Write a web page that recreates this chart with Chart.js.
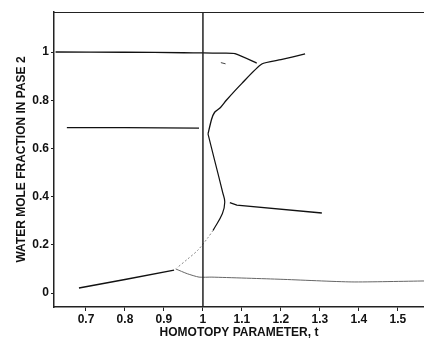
<!DOCTYPE html>
<html>
<head>
<meta charset="utf-8">
<script src="https://cdn.jsdelivr.net/npm/chart.js@4"></script>
<style>
  html, body { margin: 0; padding: 0; background: #fff; }
  #wrap { width: 424px; height: 340px; }
</style>
</head>
<body>
<div id="wrap"><canvas id="chart"></canvas></div>
<script>
// axis limits and tick labels
var tMin = 0.618, tMax = 1.567;
var wMin = -0.058, wMax = 1.166;
var xTicks = [0.7, 0.8, 0.9, 1, 1.1, 1.2, 1.3, 1.4, 1.5];
var yTicks = [0, 0.2, 0.4, 0.6, 0.8, 1];

// branch near x = 1 (upper, left part)
var topT = [0.622, 0.8, 0.95, 1.0, 1.05, 1.082, 1.138];
var topW = [1.0, 0.999, 0.997, 0.996, 0.995, 0.993, 0.954];

// branch rising to the upper right
var riseT = [1.013, 1.022, 1.03, 1.045, 1.06, 1.1, 1.151, 1.2, 1.262];
var riseW = [0.66, 0.72, 0.75, 0.77, 0.80, 0.87, 0.95, 0.968, 0.992];

// horizontal branch at ~0.69
var midT = [0.651, 0.8, 0.99];
var midW = [0.686, 0.686, 0.684];

// bulge going down from 0.66
var bulgeT = [1.013, 1.03, 1.051, 1.056, 1.05, 1.026];
var bulgeW = [0.66, 0.55, 0.415, 0.378, 0.33, 0.26];

// faint continuation to the lower left branch
var faintT = [1.026, 1.013, 0.987, 0.96, 0.933];
var faintW = [0.26, 0.23, 0.178, 0.14, 0.104];

// lower left branch
var lowT = [0.682, 0.8, 0.926];
var lowW = [0.021, 0.056, 0.095];

// faint lower branch running right
var baseT = [0.93, 0.96, 0.99, 1.023, 1.2, 1.382, 1.567];
var baseW = [0.1, 0.08, 0.066, 0.066, 0.057, 0.046, 0.05];

// right branch at ~0.35
var rightT = [1.069, 1.087, 1.305];
var rightW = [0.375, 0.365, 0.332];

// small fragment
var fragT = [1.046, 1.058];
var fragW = [0.956, 0.951];

// vertical line at t = 1
var vertT = [1, 1];
var vertW = [wMin, wMax];

function pts(t, w) {
    return t.map(function (v, i) { return { x: v, y: w[i] }; });
}

function line(t, w, color, width, tension, dash) {
    return {
        data: pts(t, w),
        showLine: true,
        borderColor: color,
        borderWidth: width,
        borderDash: dash || [],
        pointRadius: 0,
        tension: tension,
        fill: false
    };
}

// frame line along the top of the plot
var topBorder = {
    id: 'topBorder',
    afterDraw: function (chart) {
        var a = chart.chartArea, c = chart.ctx;
        c.save();
        c.strokeStyle = '#222';
        c.lineWidth = 1;
        c.beginPath();
        c.moveTo(a.left, a.top + 0.5);
        c.lineTo(a.right, a.top + 0.5);
        c.stroke();
        c.restore();
    }
};

var font = { family: '"Liberation Sans", Arial, sans-serif', size: 12, weight: 'bold' };

new Chart(document.getElementById('chart'), {
    type: 'scatter',
    data: {
        datasets: [
            line(vertT, vertW, '#222', 1.5, 0),
            line(topT, topW, '#111', 1.3, 0.2),
            line(riseT, riseW, '#111', 1.3, 0.2),
            line(midT, midW, '#111', 1.3, 0),
            line(bulgeT, bulgeW, '#111', 1.2, 0.4),
            line(faintT, faintW, '#888', 1, 0.3, [2, 2]),
            line(lowT, lowW, '#111', 1.4, 0),
            line(baseT, baseW, '#666', 1, 0.2),
            line(rightT, rightW, '#111', 1.3, 0),
            line(fragT, fragW, '#444', 1, 0)
        ]
    },
    options: {
        responsive: true,
        maintainAspectRatio: false,
        animation: false,
        layout: { padding: { top: 12, right: 0, left: 0, bottom: 0 } },
        plugins: {
            legend: { display: false },
            tooltip: { enabled: false }
        },
        scales: {
            x: {
                type: 'linear',
                min: tMin,
                max: tMax,
                afterBuildTicks: function (s) { s.ticks = xTicks.map(function (v) { return { value: v }; }); },
                afterFit: function (s) { s.height = 33; },
                grid: { drawOnChartArea: false, tickLength: 4, color: '#222' },
                border: { color: '#222', width: 1.5 },
                ticks: { color: '#111', font: font, padding: 1, maxRotation: 0,
                         callback: function (v) { return String(v); } },
                title: { display: true, text: 'HOMOTOPY PARAMETER, t', color: '#111', font: font,
                         padding: { top: 0, bottom: 0 } }
            },
            y: {
                type: 'linear',
                min: wMin,
                max: wMax,
                afterBuildTicks: function (s) { s.ticks = yTicks.map(function (v) { return { value: v }; }); },
                afterFit: function (s) { s.width = 54; },
                grid: { drawOnChartArea: false, tickLength: 3, color: '#222' },
                border: { color: '#222', width: 1.5 },
                ticks: { color: '#111', font: font, padding: 2,
                         callback: function (v) { return String(v); } },
                title: { display: true, text: 'WATER MOLE FRACTION IN PASE 2', color: '#111', font: font,
                         padding: { top: 14, bottom: 0 } }
            }
        }
    },
    plugins: [topBorder]
});
</script>
</body>
</html>
